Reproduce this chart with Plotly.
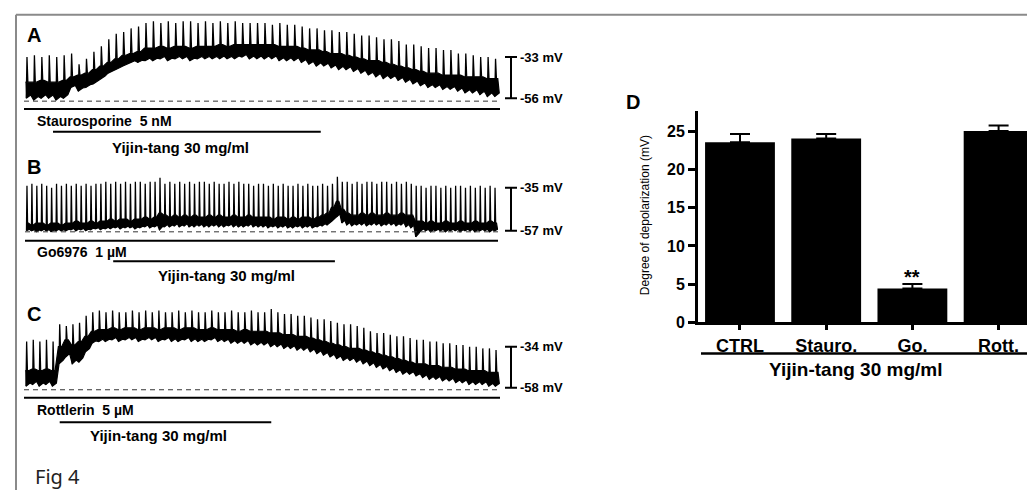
import plotly.graph_objects as go

W, H = 1035, 491
BOLD = "Liberation Sans, Arial, sans-serif"

# Panel A - Staurosporine 5 nM, one value per slow wave (mV)
a_peak = [-33, -32, -33, -32, -33, -32, -31, -37, -34, -30, -27, -23, -20, -19, -17, -16,
          -14, -13, -14, -13, -14, -13, -13, -14, -13, -14, -13, -14, -13, -14, -14,
          -14, -14, -15, -14, -15, -15,
          -16, -17, -17, -18, -18, -19, -19,
          -20, -21, -21, -22, -23, -23, -24,
          -26, -26, -27, -28, -28, -29, -29,
          -31, -31, -32, -33, -33, -34]
a_band = [-47, -47, -46, -47, -47, -46, -44, -43, -42, -40, -38, -36, -34, -32, -31, -30,
          -28, -28, -27, -28, -27, -27, -28, -27, -27, -27, -26, -27, -26, -26, -26,
          -26, -26, -26, -27, -27, -27,
          -28, -29, -29, -30, -31, -31, -32,
          -33, -34, -35, -35, -36, -37, -38,
          -39, -40, -41, -42, -42, -43, -43,
          -43, -44, -44, -44, -45, -45]
a_trough = [-56, -57, -56, -56, -57, -56, -50, -52, -50, -48, -45, -42, -40, -38, -36, -36,
            -35, -35, -34, -35, -34, -34, -35, -34, -34, -34, -34, -34, -34, -33, -34,
            -34, -34, -34, -35, -35, -35,
            -36, -37, -38, -38, -39, -40, -40,
            -41, -42, -43, -44, -45, -45, -46,
            -47, -48, -49, -50, -50, -51, -51,
            -52, -53, -53, -54, -55, -55]
a_scale = [-33, -56]
a_rest = -57.6
a_yijin = [3.5, 39.5]

# Panel B - Go6976 1 uM
b_peak = [-34, -33, -34, -33, -34, -35, -33, -34, -33, -34, -33, -34, -33, -34, -33, -33,
          -32, -33, -32, -33, -32, -33, -32, -32, -33, -32, -32,
          -30,
          -33, -32, -33, -32, -33, -32, -33, -32, -32, -33, -32, -33, -33, -32, -33, -32,
          -33, -33, -34, -33, -33,
          -34, -33, -34, -33, -34, -34, -33, -34, -33, -34, -34, -33, -34,
          -33, -29.5,
          -32, -32, -33, -32, -33, -32, -32, -33, -32, -32, -33, -32, -33, -32, -33,
          -34, -34, -35, -34, -34, -35, -34, -35, -34, -34, -35, -34, -35, -34, -35, -34, -35]
b_band = [-53, -54, -53, -53, -54, -53, -53, -54, -53, -53, -52, -53, -53, -52, -53, -52, -52,
          -51, -52, -51, -51, -52, -51, -51, -50, -51, -50,
          -48,
          -49, -50, -49, -50, -49, -50, -49, -50, -50, -49, -50, -49, -50, -50, -49, -50,
          -50, -49, -50, -50, -50,
          -50, -51, -50, -50, -51, -50, -51, -50, -50, -51, -50, -49, -48,
          -45, -42,
          -46, -48, -49, -49, -48, -49, -48, -49, -49, -48, -49, -49, -48, -49, -49,
          -52, -52, -53, -52, -53, -53, -52, -53, -53, -52, -53, -53, -52, -53, -53, -52, -53]
b_trough = [-57, -57, -57.5, -57, -57, -57.5, -57, -57, -57, -56.5, -57, -56.5, -57, -56.5,
            -56, -56.5, -56, -56, -55.5, -56, -55.5, -55.5, -56, -55.5, -55, -55.5, -55,
            -56.5,
            -55, -55, -54.5, -55, -54.5, -55, -55, -54.5, -55, -55, -54.5, -55, -55, -54.5,
            -55, -55, -55, -54.5, -55, -55, -55,
            -55.5, -55, -55.5, -55, -55.5, -55.5, -55, -55.5, -55, -55.5, -55, -54.5, -54,
            -52, -50,
            -53, -54, -54.5, -54, -54, -54.5, -54, -54, -54.5, -54, -54, -54.5, -54, -55, -55.5,
            -60,
            -57, -57, -57.5, -57, -57, -57.5, -57, -57, -57.5, -57, -57, -57.5, -57, -57, -57.5, -57]
b_scale = [-35, -57]
b_rest = -57.5
b_yijin = [17.5, 62.5]

# Panel C - Rottlerin 5 uM
c_peak = [-31, -30, -31, -30, -31, -21, -22, -21, -20, -16,
          -14, -13, -14, -13, -14, -14, -13, -14, -13, -14, -13, -14, -14, -13, -14, -13,
          -14, -14, -13, -14, -14, -13, -14, -14, -13, -14, -14,
          -12, -14, -15, -15, -16, -16,
          -17, -18, -18, -19, -20, -21, -21, -22, -23,
          -25, -26, -26, -27, -28, -28, -29, -30, -30,
          -31, -31, -32, -32, -33, -33, -34, -34, -35, -35, -36]
c_band = [-48, -47, -48, -47, -48, -34, -30, -33, -31, -28,
          -25, -24, -24, -23, -24, -23, -23, -24, -23, -23, -24, -23, -23, -24, -23, -23,
          -24, -24, -23, -24, -24, -24, -25, -24, -25, -25, -25,
          -26, -26, -27, -27, -28, -28,
          -29, -30, -31, -32, -33, -34, -35, -35, -36,
          -37, -38, -39, -40, -41, -42, -43, -44, -44,
          -45, -45, -46, -46, -47, -47, -48, -48, -48, -49, -49]
c_trough = [-57, -56, -57, -56, -57, -44, -40, -44, -43, -37,
            -32, -31, -31, -30, -31, -30, -30, -31, -30, -30, -31, -30, -31, -31, -30, -31,
            -31, -31, -30, -31, -31, -32, -32, -32, -33, -33, -33,
            -34, -34, -35, -35, -36, -36,
            -37, -38, -39, -40, -41, -42, -42, -43, -44,
            -45, -46, -47, -48, -49, -50, -50, -51, -52,
            -53, -53, -54, -54, -55, -55, -56, -56, -56, -57, -57]
c_scale = [-34, -58]
c_rest = -59.1
c_yijin = [5.0, 37.0]

# Panel D - bar chart
groups = ["CTRL", "Stauro.", "Go.", "Rott."]
depol_mean = [23.6, 24.1, 4.4, 25.1]
depol_sem = [1.1, 0.6, 0.6, 0.7]


def px(x):
    return x / W


def py(y):
    return 1 - y / H


def wave_traces(peak, band, trough, xa, ya):
    # dark band of fast oscillations between trough and band top
    ux, uy, lx, ly = [], [], [], []
    for i in range(len(peak)):
        ux += [i - 0.2, i + 0.3]
        uy += [band[i], band[i]]
        lx += [i - 0.1, i + 0.5]
        ly += [trough[i], trough[i] + 0.2 * (band[i] - trough[i])]
    poly = go.Scatter(x=ux + lx[::-1], y=uy + ly[::-1], fill="toself", fillcolor="black",
                      mode="lines", line=dict(color="black", width=1.2),
                      xaxis=xa, yaxis=ya, hoverinfo="skip", showlegend=False)
    # spikes
    sx, sy = [], []
    for i in range(len(peak)):
        sx += [i - 0.1, i, i + 0.12, None]
        sy += [trough[i], peak[i], band[i], None]
    spikes = go.Scatter(x=sx, y=sy, mode="lines", line=dict(color="black", width=1.3),
                        xaxis=xa, yaxis=ya, hoverinfo="skip", showlegend=False)
    return [poly, spikes]


fig = go.Figure()
shapes, notes = [], []

panels = [
    dict(letter="A", peak=a_peak, band=a_band, trough=a_trough, scale=a_scale, rest=a_rest,
         yijin=a_yijin, pre="Staurosporine  5 nM", ax="", x0=16, x1=492, ytop=8, ybot=100,
         ytop_mv=-10.0, ybot_mv=-60.4, letter_y=27, pre_line=103, pre_y=115, yj_line=126,
         yj_x=172, yj_y=142),
    dict(letter="B", peak=b_peak, band=b_band, trough=b_trough, scale=b_scale, rest=b_rest,
         yijin=b_yijin, pre="Go6976  1 µM", ax="2", x0=17, x1=490, ytop=160, ybot=235,
         ytop_mv=-23.5, ybot_mv=-61.0, letter_y=162, pre_line=237, pre_y=249, yj_line=258,
         yj_x=218, yj_y=272),
    dict(letter="C", peak=c_peak, band=c_band, trough=c_trough, scale=c_scale, rest=c_rest,
         yijin=c_yijin, pre="Rottlerin  5 µM", ax="3", x0=16, x1=492, ytop=295, ybot=395,
         ytop_mv=-5.4, ybot_mv=-62.6, letter_y=312, pre_line=397, pre_y=410, yj_line=422,
         yj_x=150, yj_y=435),
]

layout_axes = {}
for p in panels:
    xa, ya = "x" + p["ax"], "y" + p["ax"]
    n = len(p["peak"])
    for t in wave_traces(p["peak"], p["band"], p["trough"], xa, ya):
        fig.add_trace(t)
    layout_axes["xaxis" + p["ax"]] = dict(domain=[px(p["x0"]), px(p["x1"])], range=[-0.4, n - 0.4],
                                          visible=False, anchor=ya)
    layout_axes["yaxis" + p["ax"]] = dict(domain=[py(p["ybot"]), py(p["ytop"])],
                                          range=[p["ybot_mv"], p["ytop_mv"]], visible=False, anchor=xa)
    # resting potential (dashed)
    shapes.append(dict(type="line", xref=xa, yref=ya, x0=-0.4, x1=n - 0.4, y0=p["rest"], y1=p["rest"],
                       line=dict(color="#333", width=1, dash="5px,4px")))
    # pretreatment bar
    shapes.append(dict(type="line", xref=xa, yref="paper", x0=-0.4, x1=n - 0.4,
                       y0=py(p["pre_line"]), y1=py(p["pre_line"]), line=dict(color="black", width=2)))
    # Yijin-tang bar
    shapes.append(dict(type="line", xref=xa, yref="paper", x0=p["yijin"][0], x1=p["yijin"][1],
                       y0=py(p["yj_line"]), y1=py(p["yj_line"]), line=dict(color="black", width=2)))
    # scale bar
    shapes.append(dict(type="line", xref="paper", yref=ya, x0=px(503), x1=px(503),
                       y0=p["scale"][0], y1=p["scale"][1], line=dict(color="black", width=2)))
    for v in p["scale"]:
        shapes.append(dict(type="line", xref="paper", yref=ya, x0=px(497), x1=px(509), y0=v, y1=v,
                           line=dict(color="black", width=2)))
        notes.append(dict(x=px(510), y=v, xref="paper", yref=ya, text=f"<b>{v} mV</b>", showarrow=False,
                          xanchor="left", yanchor="middle", font=dict(family=BOLD, size=13, color="black")))
    notes.append(dict(x=px(17), y=py(p["letter_y"]), xref="paper", yref="paper", text=f"<b>{p['letter']}</b>",
                      showarrow=False, xanchor="left", yanchor="middle", font=dict(family=BOLD, size=20, color="black")))
    notes.append(dict(x=px(27), y=py(p["pre_y"]), xref="paper", yref="paper", text=f"<b>{p['pre']}</b>",
                      showarrow=False, xanchor="left", yanchor="middle", font=dict(family=BOLD, size=14, color="black")))
    notes.append(dict(x=px(p["yj_x"]), y=py(p["yj_y"]), xref="paper", yref="paper", text="<b>Yijin-tang 30 mg/ml</b>",
                      showarrow=False, xanchor="center", yanchor="middle", font=dict(family=BOLD, size=15, color="black")))

# Panel D
fig.add_trace(go.Bar(
    x=list(range(len(groups))), y=depol_mean, width=0.81, marker=dict(color="black", line=dict(width=0)),
    error_y=dict(type="data", symmetric=False, array=depol_sem, arrayminus=[0] * len(groups),
                 color="black", thickness=2, width=10),
    xaxis="x4", yaxis="y4", showlegend=False, hoverinfo="skip",
))
layout_axes["xaxis4"] = dict(domain=[px(690), 1.0], range=[-0.487, 3.515], anchor="y4",
                             tickvals=list(range(len(groups))), ticktext=[f"<b>{g}</b>" for g in groups],
                             ticks="outside", ticklen=5, tickwidth=2.5, tickcolor="black",
                             showline=True, linecolor="black", linewidth=3, showgrid=False, zeroline=False,
                             tickfont=dict(family=BOLD, size=18, color="black"))
layout_axes["yaxis4"] = dict(domain=[py(320), py(105)], range=[0, 27.7], anchor="x4",
                             tickvals=[0, 5, 10, 15, 20, 25], ticktext=[f"<b>{v}</b>" for v in [0, 5, 10, 15, 20, 25]],
                             ticks="outside", ticklen=7, tickwidth=2.5, tickcolor="black",
                             showline=True, linecolor="black", linewidth=3, showgrid=False, zeroline=False,
                             tickfont=dict(family=BOLD, size=16, color="black"))

notes += [
    dict(x=px(625), y=py(96), xref="paper", yref="paper", text="<b>D</b>", showarrow=False,
         xanchor="center", yanchor="middle", font=dict(family=BOLD, size=20, color="black")),
    dict(x=px(637), y=py(211), xref="paper", yref="paper", text="Degree of depolarization (mV)",
         showarrow=False, textangle=-90, xanchor="center", yanchor="middle",
         font=dict(family=BOLD, size=12, color="black")),
    dict(x=2, y=depol_mean[2] + depol_sem[2], xref="x4", yref="y4", text="<b>**</b>", showarrow=False,
         xanchor="center", yanchor="bottom", yshift=-6, font=dict(family=BOLD, size=20, color="black")),
    dict(x=px(848), y=py(368), xref="paper", yref="paper", text="<b>Yijin-tang 30 mg/ml</b>", showarrow=False,
         xanchor="center", yanchor="middle", font=dict(family=BOLD, size=19, color="black")),
    dict(x=px(25), y=py(477), xref="paper", yref="paper", text="Fig 4", showarrow=False,
         xanchor="left", yanchor="middle", font=dict(family="Noto Sans, sans-serif", size=20, color="#222")),
]
shapes += [
    dict(type="line", xref="paper", yref="paper", x0=px(693), x1=px(1025), y0=py(352), y1=py(352),
         line=dict(color="black", width=2.5)),
    # figure frame (left and top)
    dict(type="line", xref="paper", yref="paper", x0=px(8), x1=px(8), y0=0, y1=py(7),
         line=dict(color="#8a8a8a", width=2)),
    dict(type="line", xref="paper", yref="paper", x0=px(8), x1=1, y0=py(7), y1=py(7),
         line=dict(color="#8a8a8a", width=2)),
]

fig.update_layout(
    width=W, height=H, margin=dict(l=0, r=0, t=0, b=0),
    paper_bgcolor="white", plot_bgcolor="white",
    shapes=shapes, annotations=notes, **layout_axes,
)

fig.write_html("out.html")
